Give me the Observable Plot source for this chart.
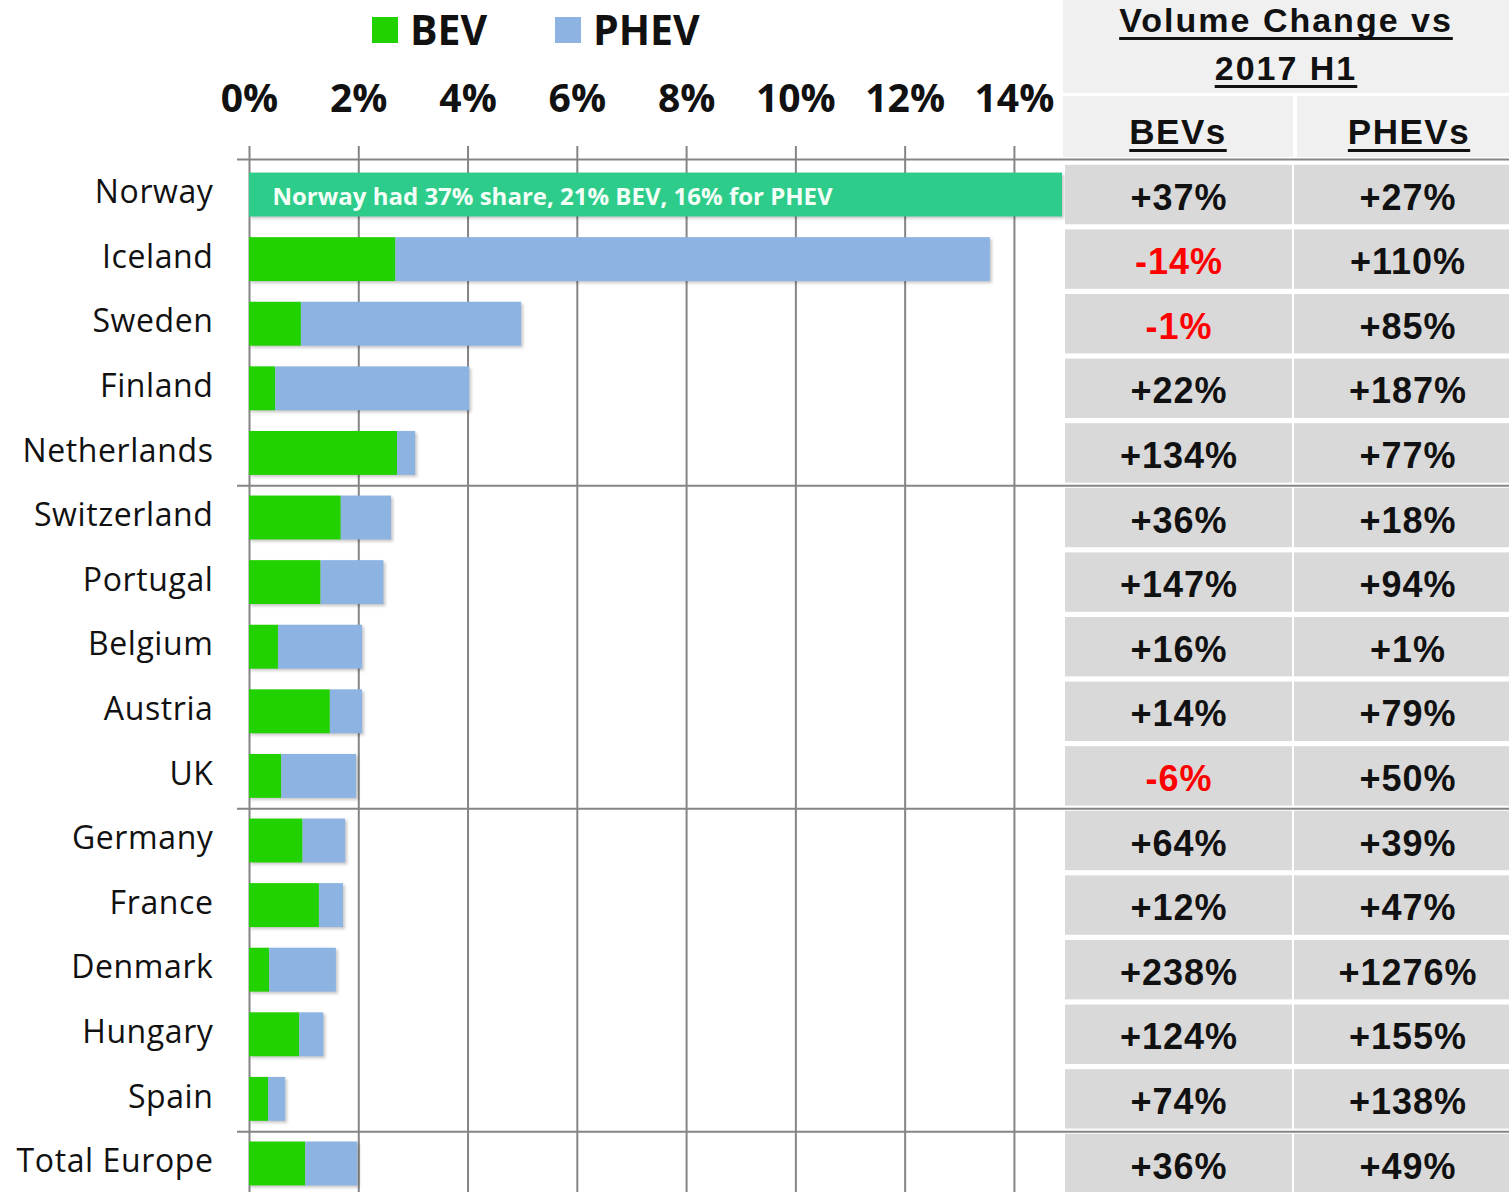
<!DOCTYPE html>
<html>
<head>
<meta charset="utf-8">
<script src="https://cdn.jsdelivr.net/npm/d3@7"></script>
<script src="https://cdn.jsdelivr.net/npm/@observablehq/plot@0.6"></script>
<style>
  html, body { margin: 0; padding: 0; background: #fff; }
  #wrap { position: relative; width: 1509px; height: 1192px; overflow: hidden; background: #fff; }
  #chart { position: absolute; left: 0; top: 0; }
  #table { position: absolute; left: 1064px; top: 0; width: 445px; height: 1192px; }
  .legend { position: absolute; top: 9px; display: flex; align-items: center; font-family: "Open Sans", sans-serif; font-weight: 700; font-size: 41px; line-height: 1; color: #111; }
  .legend .sw { width: 26px; height: 26px; margin-right: 12px; }
  .hdr { position: absolute; background: #F0F0F0; }
  .htxt { position: absolute; left: 0; right: 0; text-align: center; font-family: "Liberation Sans", Arial, sans-serif; font-weight: 700; color: #111;
          text-decoration: underline; text-decoration-thickness: 3px; text-underline-offset: 5px; text-decoration-skip-ink: none; white-space: nowrap; }
  .bars g[aria-label="rect"] rect { filter: drop-shadow(2px 2px 1.5px rgba(0,0,0,0.22)); }
  .bars g[aria-label="y-axis tick label"] text { letter-spacing: 0.6px; }
  .tbl text { letter-spacing: 1px; }
</style>
</head>
<body>
<div id="wrap">
  <div id="chart"></div>
  <div id="table"></div>
</div>
<script>
// ---- data ----
const countries = ["Norway","Iceland","Sweden","Finland","Netherlands","Switzerland","Portugal","Belgium","Austria","UK","Germany","France","Denmark","Hungary","Spain","Total Europe"];
const bevShare  = [21, 2.68, 0.95, 0.48, 2.71, 1.68, 1.31, 0.53, 1.48, 0.59, 0.98, 1.28, 0.37, 0.92, 0.35, 1.03];
const phevShare = [16, 10.88, 4.03, 3.55, 0.33, 0.92, 1.15, 1.54, 0.59, 1.37, 0.78, 0.44, 1.22, 0.44, 0.31, 0.95];
const bevChange  = [37, -14, -1, 22, 134, 36, 147, 16, 14, -6, 64, 12, 238, 124, 74, 36];
const phevChange = [27, 110, 85, 187, 77, 18, 94, 1, 79, 50, 39, 47, 1276, 155, 138, 49];
const groupEnds = ["Netherlands", "UK", "Spain"];   // a separator line follows each of these rows
const xTicks = [0, 2, 4, 6, 8, 10, 12, 14];
const seriesNames = ["BEV", "PHEV"];
const tableColumns = ["BEVs", "PHEVs"];
const tableTitle = ["Volume Change vs", "2017 H1"];
const highlight = "Norway";

// ---- derived ----
const xMax = 14.88;
const rows = countries.map((c, i) => ({country: c, i, bev: bevShare[i], phev: phevShare[i], total: +(bevShare[i] + phevShare[i]).toFixed(2)}));
const normal = rows.filter(r => r.country !== highlight);
const special = rows.filter(r => r.country === highlight);
const separators = groupEnds.map(c => countries.indexOf(c) + 0.5);
const yDomain = [-0.55, countries.length - 0.45];
const yRange = [159, 1199];
const half = 0.34;
const colors = {BEV: "#22D100", PHEV: "#8DB3E2", highlight: "#2ECC8A"};
const lineColor = "#858585";

const chart = Plot.plot({
  width: 1064, height: 1192,
  marginTop: 159, marginLeft: 237, marginRight: 0, marginBottom: 0,
  className: "bars",
  style: {fontFamily: "'Open Sans', sans-serif", background: "transparent", color: "#111", overflow: "visible"},
  x: {domain: [0, xMax], insetLeft: 12, insetRight: 2},
  y: {domain: yDomain, range: yRange},
  marks: [
    Plot.gridX({ticks: xTicks, stroke: lineColor, strokeOpacity: 1, strokeWidth: 2}),
    Plot.axisX({ticks: xTicks, anchor: "top", tickSize: 14, tickPadding: 34, tickFormat: d => d + "%",
      fontSize: 39, fontWeight: "bold", stroke: lineColor, strokeWidth: 2, fill: "#111", label: null}),
    Plot.axisY({ticks: rows.map(r => r.i), tickFormat: i => countries[i], tickSize: 0, tickPadding: 24,
      fontSize: 32, dy: -2, fill: "#111", label: null}),
    Plot.ruleY([yDomain[0], ...separators], {stroke: lineColor, strokeWidth: 2}),
    Plot.rect(normal, {x1: 0, x2: "bev", y1: d => d.i - half, y2: d => d.i + half, fill: colors.BEV}),
    Plot.rect(normal, {x1: "bev", x2: "total", y1: d => d.i - half, y2: d => d.i + half, fill: colors.PHEV}),
    Plot.rect(special, {x1: 0, x2: d => Math.min(d.total, xMax), y1: d => d.i - half, y2: d => d.i + half, fill: colors.highlight}),
    Plot.text(special, {x: 0, y: "i", text: d => `${d.country} had ${d.total}% share, ${d.bev}% BEV, ${d.phev}% for PHEV`,
      textAnchor: "start", dx: 23, dy: 2, fill: "#F4FFF8", fontWeight: "bold", fontSize: 24})
  ]
});
document.getElementById("chart").appendChild(chart);

// legend
const legendPos = {BEV: 372, PHEV: 555};
seriesNames.forEach(s => {
  const d = document.createElement("div");
  d.className = "legend";
  d.style.left = legendPos[s] + "px";
  d.innerHTML = `<span class="sw" style="background:${colors[s]}"></span><span>${s}</span>`;
  document.getElementById("wrap").appendChild(d);
});

// table
const cells = [];
rows.forEach(r => {
  cells.push({col: tableColumns[0], i: r.i, v: bevChange[r.i]});
  cells.push({col: tableColumns[1], i: r.i, v: phevChange[r.i]});
});
const fmt = v => (v >= 0 ? "+" : "") + v + "%";
const tbl = Plot.plot({
  width: 445, height: 1192,
  marginTop: 159, marginLeft: 0, marginRight: 0, marginBottom: 0,
  className: "tbl",
  style: {fontFamily: "'Liberation Sans', Arial, sans-serif", background: "transparent", color: "#111"},
  x: {type: "band", domain: tableColumns, range: [1, 457], paddingInner: 0.0088, paddingOuter: 0, axis: null},
  y: {domain: yDomain, range: yRange, axis: null},
  marks: [
    Plot.barY(cells, {x: "col", y1: d => d.i - 0.46, y2: d => d.i + 0.46, fill: "#D9D9D9"}),
    Plot.text(cells.filter(d => d.v >= 0), {x: "col", y: "i", text: d => fmt(d.v), fill: "#111", fontSize: 36, fontWeight: "bold", dy: 3}),
    Plot.text(cells.filter(d => d.v < 0), {x: "col", y: "i", text: d => fmt(d.v), fill: "#FF0000", fontSize: 36, fontWeight: "bold", dy: 3}),
    Plot.ruleY([yDomain[0], ...separators], {stroke: lineColor, strokeWidth: 2})
  ]
});
const tdiv = document.getElementById("table");
tdiv.appendChild(tbl);
tbl.style.position = "absolute"; tbl.style.left = "0"; tbl.style.top = "0";

// header
function addDiv(parent, cls, css, html) {
  const d = document.createElement("div");
  d.className = cls; d.style.cssText = css; if (html) d.innerHTML = html;
  parent.appendChild(d); return d;
}
const h1 = addDiv(tdiv, "hdr", "left:-1px;top:0;width:446px;height:93px;");
addDiv(h1, "htxt", "top:3px;font-size:34px;line-height:35px;letter-spacing:2px;", tableTitle[0]);
addDiv(h1, "htxt", "top:51px;font-size:34px;line-height:35px;letter-spacing:2px;", tableTitle[1]);
const h2a = addDiv(tdiv, "hdr", "left:-1px;top:96px;width:230px;height:61px;");
addDiv(h2a, "htxt", "top:18px;font-size:35px;line-height:35px;letter-spacing:1.5px;", tableColumns[0]);
const h2b = addDiv(tdiv, "hdr", "left:233px;top:96px;width:224px;height:61px;");
addDiv(h2b, "htxt", "top:18px;font-size:35px;line-height:35px;letter-spacing:1.5px;", tableColumns[1]);
</script>
</body>
</html>
